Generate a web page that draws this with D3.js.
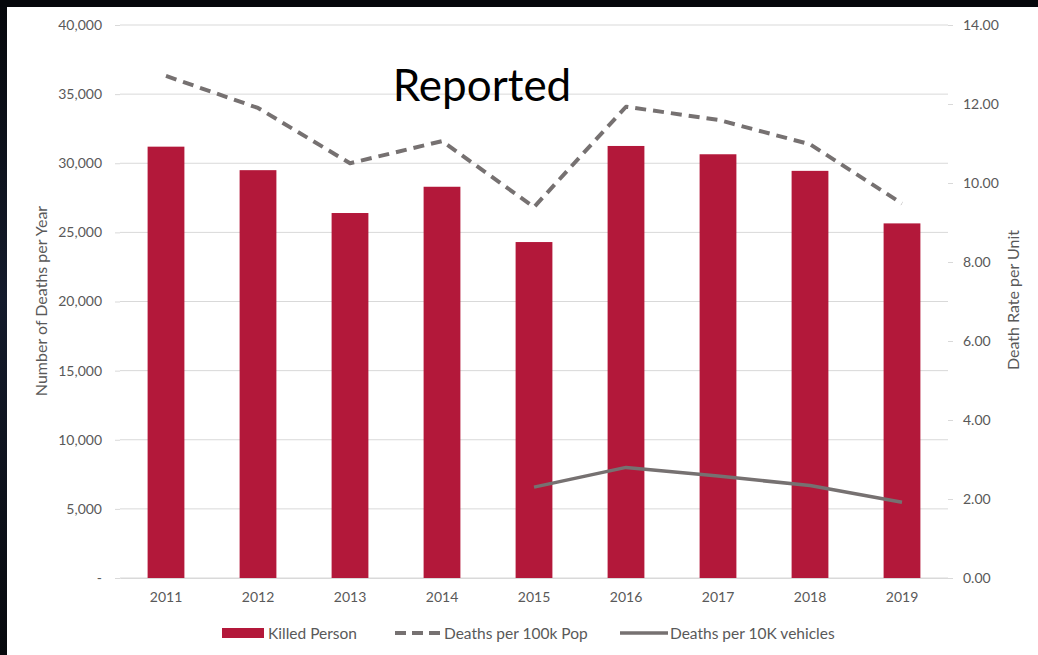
<!DOCTYPE html>
<html>
<head>
<meta charset="utf-8">
<script src="https://cdn.jsdelivr.net/npm/d3@7/dist/d3.min.js"></script>
<style>
  html, body { margin: 0; padding: 0; background: #05070b; }
  svg { display: block; }
  text { font-family: Lato, "Open Sans", sans-serif; }
</style>
</head>
<body>
<svg id="chart" width="1038" height="655"></svg>
<script>
// Yearly road-death figures
const years = ["2011", "2012", "2013", "2014", "2015", "2016", "2017", "2018", "2019"];
const killedPersons = [31200, 29500, 26400, 28300, 24300, 31250, 30650, 29450, 25650];
const deathsPer100kPop = [12.71, 11.9, 10.5, 11.06, 9.39, 11.93, 11.6, 10.98, 9.48];
const deathsPer10kVehicles = [null, null, null, null, 2.30, 2.80, 2.58, 2.34, 1.92];
const leftTicks = [0, 5000, 10000, 15000, 20000, 25000, 30000, 35000, 40000];
const rightTicks = [0, 2, 4, 6, 8, 10, 12, 14];

const svg = d3.select("#chart");
const W = 1038, H = 655;

// dark backdrop with the white chart panel on top
const defs = svg.append("defs");
const grad = defs.append("linearGradient").attr("id", "edge").attr("x1", 0).attr("y1", 0).attr("x2", 0).attr("y2", 1);
grad.append("stop").attr("offset", "0%").attr("stop-color", "#06080c");
grad.append("stop").attr("offset", "45%").attr("stop-color", "#141b2c");
grad.append("stop").attr("offset", "100%").attr("stop-color", "#07090d");
svg.append("rect").attr("width", W).attr("height", H).attr("fill", "#05070b");
svg.append("rect").attr("x", 0).attr("y", 7).attr("width", 8).attr("height", H - 7).attr("fill", "url(#edge)");
svg.append("rect").attr("x", 7).attr("y", 7).attr("width", W - 7).attr("height", H - 7).attr("fill", "#ffffff");

const plot = { left: 120, right: 948, top: 25, bottom: 578 };

const x = d3.scaleBand().domain(years).range([plot.left, plot.right]).paddingInner(0.6).paddingOuter(0.3);
const xc = d => x(d) + x.bandwidth() / 2;
const yL = d3.scaleLinear().domain([0, 40000]).range([plot.bottom, plot.top]);
const yR = d3.scaleLinear().domain([0, 14]).range([plot.bottom, plot.top]);

const textGray = "#595959";
const gridColor = "#d9d9d9";
const tickSize = "14px";
const labelSize = "15.5px";

// gridlines
svg.append("g").selectAll("line").data(leftTicks).join("line")
  .attr("x1", plot.left).attr("x2", plot.right)
  .attr("y1", d => yL(d)).attr("y2", d => yL(d))
  .attr("stroke", gridColor).attr("stroke-width", 1);

// left axis
const leftAxis = d3.axisLeft(yL).tickValues(leftTicks)
  .tickFormat(d => d === 0 ? "-" : d3.format(",")(d))
  .tickSize(5).tickPadding(13);
const gL = svg.append("g").attr("transform", `translate(${plot.left},0)`).call(leftAxis);
gL.select(".domain").remove();
gL.selectAll(".tick line").attr("stroke", gridColor);
gL.selectAll(".tick text").attr("fill", textGray).style("font-size", tickSize).attr("font-family", "Lato, sans-serif");

// right axis
const rightAxis = d3.axisRight(yR).tickValues(rightTicks)
  .tickFormat(d3.format(".2f")).tickSize(5).tickPadding(10);
const gR = svg.append("g").attr("transform", `translate(${plot.right},0)`).call(rightAxis);
gR.select(".domain").remove();
gR.selectAll(".tick line").attr("stroke", gridColor);
gR.selectAll(".tick text").attr("fill", textGray).style("font-size", tickSize).attr("font-family", "Lato, sans-serif");

// category axis
const bottomAxis = d3.axisBottom(x).tickSize(0).tickPadding(14);
const gB = svg.append("g").attr("transform", `translate(0,${plot.bottom})`).call(bottomAxis);
gB.select(".domain").attr("stroke", gridColor);
gB.selectAll(".tick text").attr("fill", textGray).style("font-size", tickSize).attr("font-family", "Lato, sans-serif");

// bars
svg.append("g").selectAll("rect").data(years).join("rect")
  .attr("x", d => x(d))
  .attr("width", x.bandwidth())
  .attr("y", (d, i) => yL(killedPersons[i]))
  .attr("height", (d, i) => yL(0) - yL(killedPersons[i]))
  .attr("fill", "#b3183a");

const lineGray = "#767171";

// deaths per 100k population (dashed)
const popLine = d3.line().x((d, i) => xc(years[i])).y(d => yR(d));
svg.append("path").datum(deathsPer100kPop)
  .attr("d", popLine)
  .attr("fill", "none").attr("stroke", lineGray)
  .attr("stroke-width", 4).attr("stroke-dasharray", "11,7")
  .attr("stroke-linejoin", "round");

// deaths per 10k vehicles (solid, recorded from 2015)
const vehLine = d3.line().defined(d => d !== null).x((d, i) => xc(years[i])).y(d => yR(d));
svg.append("path").datum(deathsPer10kVehicles)
  .attr("d", vehLine)
  .attr("fill", "none").attr("stroke", lineGray)
  .attr("stroke-width", 3.5).attr("stroke-linejoin", "round");

// axis titles
svg.append("text")
  .attr("transform", `translate(47,301) rotate(-90)`)
  .attr("text-anchor", "middle").attr("fill", textGray)
  .style("font-size", "16px").text("Number of Deaths per Year");
svg.append("text")
  .attr("transform", `translate(1019,300) rotate(-90)`)
  .attr("text-anchor", "middle").attr("fill", textGray)
  .style("font-size", "16px").text("Death Rate per Unit");

// chart title
svg.append("text")
  .attr("x", 482).attr("y", 101)
  .attr("text-anchor", "middle").attr("fill", "#000")
  .style("font-size", "44px").text("Reported");

// legend
const legendY = 633;
const legend = svg.append("g");
legend.append("rect").attr("x", 222).attr("y", legendY - 5).attr("width", 42).attr("height", 10).attr("fill", "#b3183a");
legend.append("text").attr("x", 268).attr("y", legendY + 5.5).attr("fill", textGray).style("font-size", labelSize).text("Killed Person");
legend.append("line").attr("x1", 395).attr("x2", 441).attr("y1", legendY).attr("y2", legendY)
  .attr("stroke", lineGray).attr("stroke-width", 4).attr("stroke-dasharray", "11,6");
legend.append("text").attr("x", 444).attr("y", legendY + 5.5).attr("fill", textGray).style("font-size", labelSize).text("Deaths per 100k Pop");
legend.append("line").attr("x1", 620).attr("x2", 668).attr("y1", legendY).attr("y2", legendY)
  .attr("stroke", lineGray).attr("stroke-width", 3.5);
legend.append("text").attr("x", 670).attr("y", legendY + 5.5).attr("fill", textGray).style("font-size", labelSize).text("Deaths per 10K vehicles");
</script>
</body>
</html>
